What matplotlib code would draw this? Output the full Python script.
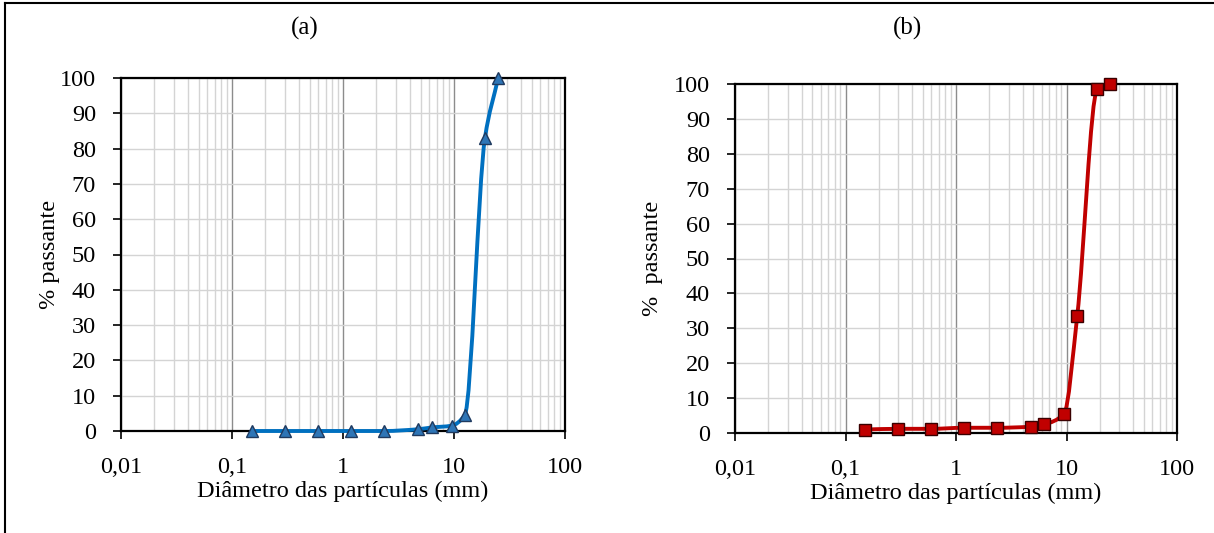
import numpy as np
import matplotlib
matplotlib.use("Agg")
import matplotlib.pyplot as plt
from matplotlib.path import Path
from matplotlib.patches import PathPatch
from matplotlib.lines import Line2D
from matplotlib.ticker import FixedLocator, LogLocator, NullFormatter

plt.rcParams['font.family'] = ['Liberation Serif', 'DejaVu Serif']

# sieve openings (mm) and % passing
diam = [0.15, 0.3, 0.6, 1.18, 2.36, 4.75, 6.3, 9.5, 12.5, 19, 25]
pass_a = [0, 0, 0, 0, 0, 0.5, 1.0, 1.5, 4.5, 83, 100]
pass_b = [1.0, 1.2, 1.2, 1.5, 1.5, 1.8, 2.5, 5.5, 33.5, 98.5, 100]

xticks = [0.01, 0.1, 1, 10, 100]
xticklabels = ['0,01', '0,1', '1', '10', '100']
yticks = list(range(0, 101, 10))


def smooth_path(x, y):
    # smoothed line as cubic bezier segments (monotone tangents in log-x)
    lx = np.log10(x)
    y = np.asarray(y, float)
    n = len(lx)
    h = np.diff(lx)
    d = np.diff(y) / h
    m = np.zeros(n)
    m[0], m[-1] = d[0], d[-1]
    for i in range(1, n - 1):
        if d[i - 1] * d[i] <= 0:
            m[i] = 0
        else:
            w1 = 2 * h[i] + h[i - 1]
            w2 = h[i] + 2 * h[i - 1]
            m[i] = (w1 + w2) / (w1 / d[i - 1] + w2 / d[i])
    verts = [(x[0], y[0])]
    codes = [Path.MOVETO]
    for i in range(n - 1):
        c1 = (lx[i] + h[i] / 3, y[i] + m[i] * h[i] / 3)
        c2 = (lx[i + 1] - h[i] / 3, y[i + 1] - m[i + 1] * h[i] / 3)
        verts += [(10 ** c1[0], c1[1]), (10 ** c2[0], c2[1]), (x[i + 1], y[i + 1])]
        codes += [Path.CURVE4] * 3
    return Path(verts, codes)


def setup(ax, ylabel, ypad):
    ax.set_xscale('log')
    ax.set_xlim(0.01, 100)
    ax.set_ylim(0, 100)
    ax.xaxis.set_major_locator(FixedLocator(xticks))
    ax.set_xticklabels(xticklabels)
    ax.xaxis.set_minor_locator(LogLocator(base=10, subs=np.arange(2, 10)))
    ax.xaxis.set_minor_formatter(NullFormatter())
    ax.set_yticks(yticks)
    ax.grid(True, which='major', axis='x', color='#8c8c8c', lw=1.0)
    ax.grid(True, which='minor', axis='x', color='#d4d4d4', lw=1.0)
    ax.grid(True, which='major', axis='y', color='#d4d4d4', lw=1.0)
    ax.set_axisbelow(True)
    for s in ax.spines.values():
        s.set_color('black')
        s.set_linewidth(1.6)
    ax.tick_params(axis='both', which='major', direction='out', length=6,
                   width=1.2, labelsize=17.5)
    ax.tick_params(axis='y', pad=12)
    ax.tick_params(axis='x', pad=13)
    ax.tick_params(axis='x', which='minor', length=0)
    ax.set_xlabel('Diâmetro das partículas (mm)', fontsize=17.5, labelpad=2)
    ax.set_ylabel(ylabel, fontsize=17.5, labelpad=ypad)


fig = plt.figure(figsize=(12.14, 5.33), dpi=100)
W, H = 1214, 533
ax1 = fig.add_axes([121 / W, 1 - 431 / H, (565 - 121) / W, (431 - 78) / H])
ax2 = fig.add_axes([735 / W, 1 - 433 / H, (1177 - 735) / W, (433 - 84) / H])

setup(ax1, '% passante', 0)
setup(ax2, '%  passante', 8)

fig.text(305 / W, 1 - 28 / H, '(a)', fontsize=18, ha='center', va='center')
fig.text(908 / W, 1 - 28 / H, '(b)', fontsize=18, ha='center', va='center')

ax1.add_patch(PathPatch(smooth_path(diam, pass_a), fill=False, ec='#0070c0',
                        lw=2.8, clip_on=False, zorder=3))
ax1.plot(diam, pass_a, ls='none', marker='^', ms=8, mfc='#2e75b6',
         mec='#1f3a5f', mew=1.0, clip_on=False, zorder=4)

ax2.add_patch(PathPatch(smooth_path(diam, pass_b), fill=False, ec='#c00000',
                        lw=2.8, clip_on=False, zorder=3))
ax2.plot(diam, pass_b, ls='none', marker='s', ms=8, mfc='#c00000',
         mec='#3a0000', mew=1.0, clip_on=False, zorder=4)

# frame lines of the surrounding cell
fig.add_artist(Line2D([5 / W, 5 / W], [0, 1 - 3 / H], color='black', lw=1.5))
fig.add_artist(Line2D([5 / W, 1], [1 - 3 / H, 1 - 3 / H], color='black', lw=1.5))

fig.savefig('out.png', dpi=100)
